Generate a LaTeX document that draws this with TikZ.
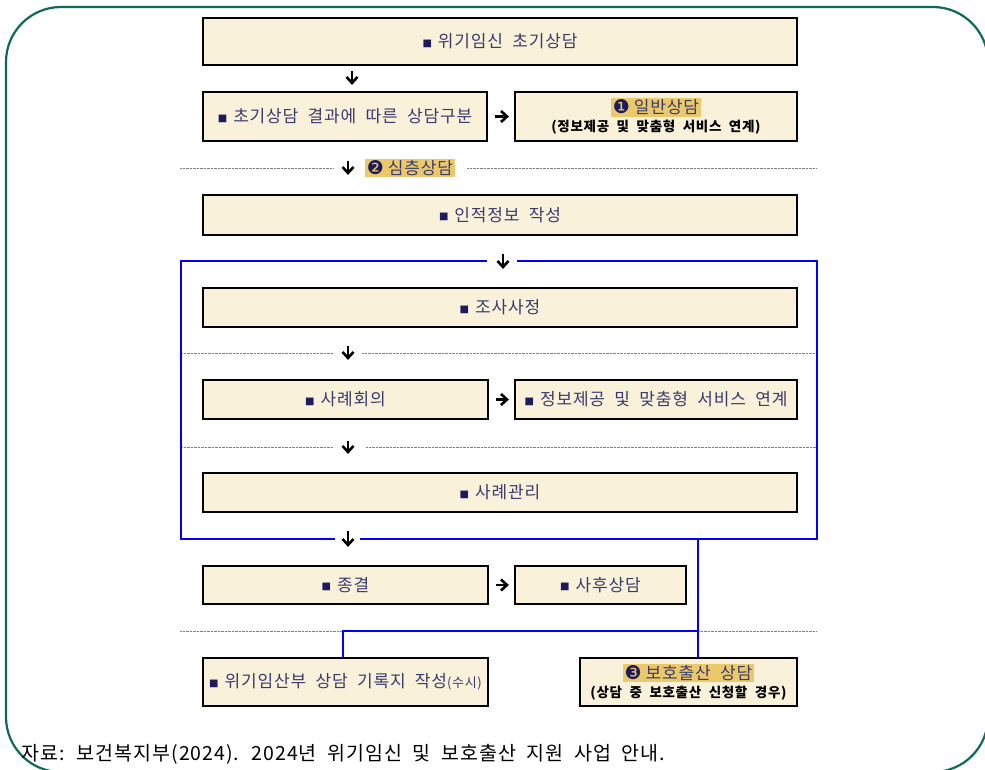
\documentclass[tikz,border=0pt]{standalone}
\usepackage{fontspec}
\setmainfont{Noto Sans CJK KR}[LetterSpace=5,WordSpace=2]
\newfontfamily\symfont{DejaVu Sans}
\usepackage{xcolor}
\usetikzlibrary{arrows.meta}
\definecolor{cream}{HTML}{FAF1DA}
\definecolor{ink}{HTML}{3A3A6E}
\definecolor{navy}{HTML}{1B1B5E}
\definecolor{hilite}{HTML}{EBC96A}
\definecolor{framegreen}{HTML}{0F6B55}
\newcommand{\bul}{\raisebox{1.5pt}{\symfont\color{navy}\fontsize{10}{10}\selectfont ■}\hspace{6pt}}
\newcommand{\hl}[1]{{\setlength{\fboxsep}{1.5pt}\colorbox{hilite}{#1}}}
\newcommand{\num}[1]{{\symfont\color{navy}\fontsize{19}{19}\selectfont #1}\hspace{4pt}}
\newcommand{\sub}[1]{{\color{black}\fontsize{13.5}{15}\selectfont\bfseries #1}}

\begin{document}
\begin{tikzpicture}[x=1pt,y=-1pt,
  stage node/.style={draw=black,line width=2.2pt,fill=cream,inner sep=0pt,text=ink,font=\fontsize{17}{21}\selectfont,align=center},
  flow/.style={-{Straight Barb[length=6pt,width=11pt]},line width=2.6pt,black},
  sep line/.style={gray,line width=0.9pt,dash pattern=on 0.8pt off 0.6pt},
  case line/.style={blue,line width=2pt},
  frame line/.style={framegreen,line width=2.2pt,rounded corners=55}]

  \useasboundingbox (0,0) rectangle (985,769);
  \draw[frame line] (6,7) rectangle (988,772);

  \node[stage node,minimum width=594,minimum height=47] (init)    at (500,41.5)  {\bul 위기임신 초기상담};
  \node[stage node,minimum width=284,minimum height=49] (split)   at (345,116.5) {\bul 초기상담 결과에 따른 상담구분};
  \node[stage node,minimum width=282,minimum height=49] (general) at (656,116.5) {\hl{\num{❶}일반상담}\\[-3pt]\sub{(정보제공 및 맞춤형 서비스 연계)}};
  \node[stage node,minimum width=594,minimum height=40] (profile) at (500,215)   {\bul 인적정보 작성};
  \node[stage node,minimum width=594,minimum height=39] (assess)  at (500,307.5) {\bul 조사사정};
  \node[stage node,minimum width=285,minimum height=39] (meeting) at (345.5,399.5) {\bul 사례회의};
  \node[stage node,minimum width=282,minimum height=39] (link)    at (656,399.5) {\bul 정보제공 및 맞춤형 서비스 연계};
  \node[stage node,minimum width=594,minimum height=39] (manage)  at (500,492.5) {\bul 사례관리};
  \node[stage node,minimum width=285,minimum height=38] (close)   at (345.5,585) {\bul 종결};
  \node[stage node,minimum width=171,minimum height=38] (after)   at (600.5,585) {\bul 사후상담};
  \node[stage node,minimum width=285,minimum height=48] (record)  at (345.5,682) {\bul 위기임산부 상담 기록지 작성{\fontsize{13}{13}\selectfont(수시)}};
  \node[stage node,minimum width=217,minimum height=48] (protect) at (688.5,682) {\hl{\num{❸}보호출산 상담}\\[-3pt]\sub{(상담 중 보호출산 신청할 경우)}};

  \node[text=ink,font=\fontsize{17}{17}\selectfont,inner sep=0pt] (deep) at (410,168) {\hl{\num{❷}심층상담}};
  \node[anchor=base west,inner sep=0pt,font=\fontsize{19.5}{19.5}\selectfont] (source) at (21,760)
    {자료: 보건복지부(2024). 2024년 위기임신 및 보호출산 지원 사업 안내.};

  \coordinate (xa) at (352,0);
  \coordinate (xb) at (348,0);
  \coordinate (xc) at (503,0);

  \draw[sep line] (180,168) -- (333,168);
  \draw[sep line] (467,168) -- (817,168);
  \draw[sep line] (181,353) -- (333,353);
  \draw[sep line] (362,353) -- (817,353);
  \draw[sep line] (181,447) -- (333,447);
  \draw[sep line] (366,447) -- (817,447);
  \draw[sep line] (180,631) -- (817,631);

  \draw[case line] (487,261) -- (181,261) -- (181,539) -- (335,539);
  \draw[case line] (517,261) -- (817,261) -- (817,539) -- (360,539);
  \coordinate (fork) at (698,631);
  \coordinate (drop) at (343,631);
  \draw[case line] (698,539) -- (fork) -- (fork |- protect.north);
  \draw[case line] (fork) -- (drop) -- (drop |- record.north);

  \draw[flow,shorten <=5pt,shorten >=6pt] (init.south -| xa) -- (split.north -| xa);
  \draw[flow,shorten <=7pt,shorten >=5pt] (split) -- (general);
  \draw[flow,shorten <=19pt,shorten >=19pt] (split.south -| xb) -- (profile.north -| xb);
  \draw[flow,shorten <=18pt,shorten >=18pt] (profile.south -| xc) -- (assess.north -| xc);
  \draw[flow,shorten <=18pt,shorten >=19pt] (assess.south -| xb) -- (meeting.north -| xb);
  \draw[flow,shorten <=7pt,shorten >=5pt] (meeting) -- (link);
  \draw[flow,shorten <=21pt,shorten >=18pt] (meeting.south -| xb) -- (manage.north -| xb);
  \draw[flow,shorten <=18pt,shorten >=18pt] (manage.south -| xb) -- (close.north -| xb);
  \draw[flow,shorten <=7pt,shorten >=5pt] (close) -- (after);
\end{tikzpicture}
\end{document}
